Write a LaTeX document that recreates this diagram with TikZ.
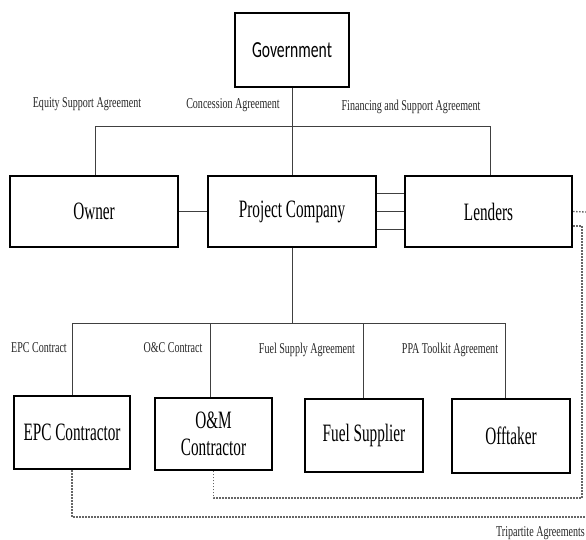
\documentclass[tikz,border=0pt]{standalone}
\usepackage{fontspec}
\setmainfont{Liberation Serif}[FakeStretch=0.67]
\newfontfamily\partyfont{Liberation Serif}[FakeStretch=0.61]
\newfontfamily\govfont{Carlito}[FakeStretch=0.68]
\usetikzlibrary{calc}
\tikzset{
  entity/.style={draw=black, line width=2.4pt, fill=white, inner sep=0pt,
    align=center, font=\partyfont\fontsize{25}{27}\selectfont},
  link/.style={draw=black!75, line width=0.9pt},
  tri/.style={draw=black!60, line width=1.3pt, dash pattern=on 1.5pt off 1.5pt},
  tag/.style={inner sep=0pt, font=\fontsize{15}{17}\selectfont, text=black!85},
}
\begin{document}
\begin{tikzpicture}[x=1pt,y=-1pt]
\useasboundingbox (0,0) rectangle (586,540);

% parties
\node[entity, minimum width=114pt, minimum height=74pt,
      font=\govfont\fontsize{23}{27}\selectfont] (gov) at (292,50) {Government};
\node[entity, minimum width=168pt, minimum height=71pt] (owner) at (94,211.5) {Owner};
\node[entity, minimum width=168pt, minimum height=71pt] (pc) at (292,211.5) {Project Company};
\node[entity, minimum width=167pt, minimum height=71pt] (lenders) at (488.5,211.5) {Lenders};
\node[entity, minimum width=116pt, minimum height=73pt] (epc) at (72,432.5) {EPC Contractor};
\node[entity, minimum width=117pt, minimum height=72pt] (om) at (213.5,434) {O\&M\\Contractor};
\node[entity, minimum width=118pt, minimum height=73pt] (fuel) at (364,435.5) {Fuel Supplier};
\node[entity, minimum width=118pt, minimum height=74pt] (off) at (511,436) {Offtaker};

% upper bus
\coordinate (topL) at (95,126);
\coordinate (topR) at (490,126);
\draw[link] (gov.south) -- (gov.south |- topL);
\draw[link] (owner.north -| topL) -- (topL) -- (topR) -- (lenders.north -| topR);
\draw[link] (pc.north) -- (pc.north |- topL);

% owner and lenders links
\draw[link] (owner.east) -- (pc.west);
\draw[link] ([yshift=18.5pt]pc.east) -- ([yshift=18.5pt]lenders.west);
\draw[link] (pc.east) -- (lenders.west);
\draw[link] ([yshift=-17.5pt]pc.east) -- ([yshift=-17.5pt]lenders.west);

% lower bus
\coordinate (busL) at (72,323);
\coordinate (b2) at (210,323);
\coordinate (b3) at (363,323);
\coordinate (busR) at (505,323);
\draw[link] (pc.south) -- (pc.south |- busL);
\draw[link] (epc.north -| busL) -- (busL) -- (busR) -- (off.north -| busR);
\draw[link] (b2) -- (b2 |- om.north);
\draw[link] (b3) -- (b3 |- fuel.north);

% tripartite links
\coordinate (edgeA) at (586,212);
\coordinate (lowR) at (582,226);
\coordinate (turn) at (582,498);
\coordinate (edgeB) at (586,517);
\draw[tri] (lenders.east) -- (edgeA);
\draw[tri] (lenders.east |- lowR) -- (lowR) -- (turn) -| (om.south);
\draw[tri] (epc.south) |- (edgeB);

% agreement labels
\node[tag] (lEq) at (87,104) {Equity Support Agreement};
\node[tag] (lCon) at (233,105) {Concession Agreement};
\node[tag] (lFin) at (411,107) {Financing and Support Agreement};
\node[tag] (lEpc) at (39,348) {EPC Contract};
\node[tag] (lOc) at (173,348) {O\&C Contract};
\node[tag] (lFuel) at (307,350) {Fuel Supply Agreement};
\node[tag] (lPpa) at (450,350) {PPA Toolkit Agreement};
\node[tag, anchor=east] (lTri) at (585,533) {Tripartite Agreements};
\end{tikzpicture}
\end{document}
